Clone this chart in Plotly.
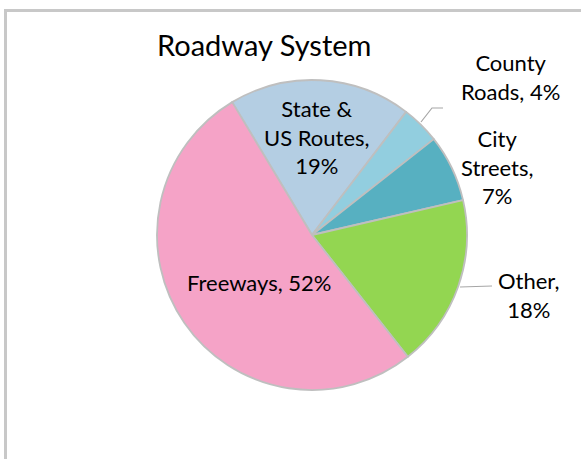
import plotly.graph_objects as go

# ---- data ----
categories = ["State & US Routes", "County Roads", "City Streets", "Other", "Freeways"]
shares = [19, 4, 7, 18, 52]
label_lines = [
    ["State &", "US Routes,", "{p}%"],
    ["County", "Roads, {p}%"],
    ["City", "Streets,", "{p}%"],
    ["Other,", "{p}%"],
    ["Freeways, {p}%"],
]
slice_colors = ["#B4CEE3", "#92CEDF", "#57B0C1", "#93D651", "#F5A3C7"]
title_text = "Roadway System"

W, H = 581, 459
FONT = "Lato"


def px(x):
    return x / W


def py(y):
    return 1 - y / H


fig = go.Figure(
    go.Pie(
        labels=categories,
        values=shares,
        sort=False,
        direction="clockwise",
        rotation=-31,
        textinfo="none",
        hoverinfo="label+percent",
        marker=dict(colors=slice_colors, line=dict(color="#BFBFBF", width=1.8)),
        domain=dict(x=[px(157), px(467)], y=[py(390), py(80)]),
        showlegend=False,
    )
)

# label placement (pixel centres) for each category
label_pos = [(317, 137), (510, 77), (497, 167), (528, 295), (259, 282)]
annotations = []
for lines, val, (lx, ly) in zip(label_lines, shares, label_pos):
    txt = "<br>".join(l.format(p=val) for l in lines)
    annotations.append(
        dict(
            text=txt, x=px(lx), y=py(ly), xref="paper", yref="paper",
            xanchor="center", yanchor="middle", showarrow=False,
            font=dict(family=FONT, size=22, color="#000000"),
        )
    )
annotations.append(
    dict(
        text=title_text, x=px(264), y=py(45), xref="paper", yref="paper",
        xanchor="center", yanchor="middle", showarrow=False,
        font=dict(family=FONT, size=29, color="#000000"),
    )
)

shapes = [
    # chart area border
    dict(type="rect", xref="paper", yref="paper",
         x0=px(5.5), x1=px(W + 20), y0=py(H + 20), y1=py(10.5),
         line=dict(color="#C8C8C8", width=3), fillcolor="rgba(0,0,0,0)"),
    # leader lines
    dict(type="path", xref="paper", yref="paper",
         path=f"M {px(421)} {py(122)} L {px(432)} {py(108)} L {px(443)} {py(108)}",
         line=dict(color="#A6A6A6", width=1.2)),
    dict(type="path", xref="paper", yref="paper",
         path=f"M {px(460)} {py(287)} L {px(492)} {py(286)}",
         line=dict(color="#A6A6A6", width=1.2)),
]

fig.update_layout(
    width=W, height=H,
    margin=dict(l=0, r=0, t=0, b=0),
    paper_bgcolor="white", plot_bgcolor="white",
    annotations=annotations, shapes=shapes,
    font=dict(family=FONT),
)

fig.write_html(
    "out.html",
    config={"displayModeBar": False},
    post_script="document.body.style.margin='0';document.body.style.overflow='hidden';",
)
